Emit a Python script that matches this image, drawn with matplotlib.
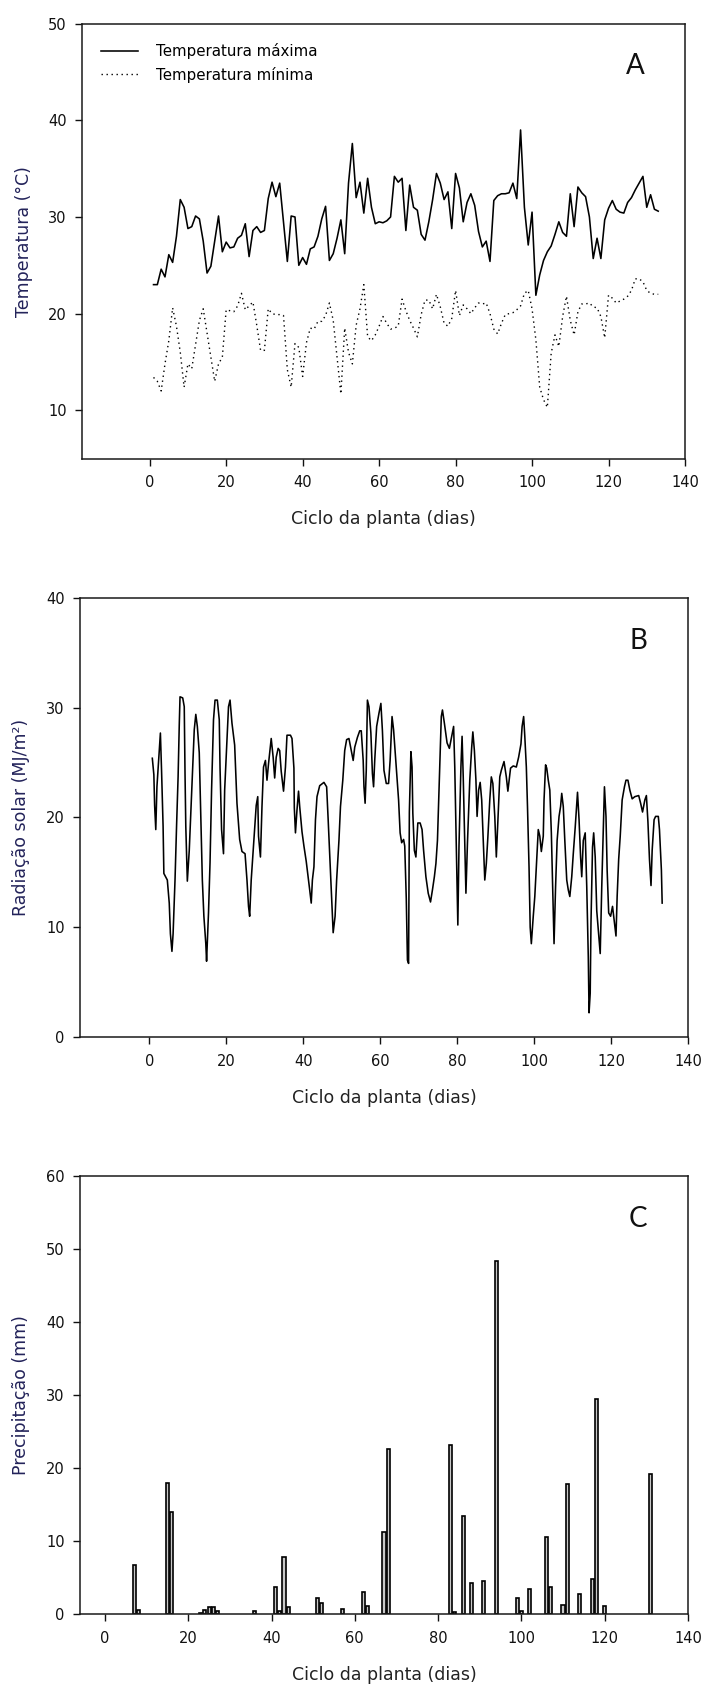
import matplotlib
matplotlib.use("Agg")
import matplotlib.pyplot as plt

# ---------------- dados ----------------
dias = list(range(1, 134))

t_max = [23.0, 23.0, 24.6, 23.8, 26.1, 25.3, 28.0, 31.8, 31.0, 28.8,
         29.0, 30.1, 29.8, 27.5, 24.2, 24.9, 27.5, 30.1, 26.4, 27.4,
         26.8, 26.9, 27.8, 28.1, 29.3, 25.9, 28.6, 29.0, 28.4, 28.6,
         31.9, 33.6, 32.1, 33.5, 29.5, 25.4, 30.1, 30.0, 25.0, 25.8,
         25.1, 26.7, 26.9, 28.0, 29.8, 31.1, 25.5, 26.2, 27.8, 29.7,
         26.2, 33.5, 37.6, 32.0, 33.6, 30.4, 34.0, 31.0, 29.3, 29.5,
         29.4, 29.6, 30.0, 34.2, 33.6, 34.0, 28.6, 33.3, 31.0, 30.7,
         28.2, 27.6, 29.5, 31.8, 34.5, 33.5, 31.8, 32.6, 28.8, 34.5,
         33.0, 29.5, 31.5, 32.4, 31.2, 28.5, 26.9, 27.5, 25.4, 31.7,
         32.2, 32.4, 32.4, 32.5, 33.5, 31.9, 39.0, 31.0, 27.1, 30.5,
         21.9, 24.0, 25.5, 26.4, 27.0, 28.2, 29.5, 28.4, 28.0, 32.4,
         29.0, 33.1, 32.5, 32.1, 30.0, 25.7, 27.8, 25.7, 29.7, 30.9,
         31.7, 30.8, 30.5, 30.4, 31.5, 32.0, 32.8, 33.5, 34.2, 31.0,
         32.3, 30.8, 30.6]

t_min = [13.4, 13.0, 12.0, 14.8, 17.2, 20.6, 18.7, 16.0, 12.4, 14.8,
         14.3, 16.8, 19.3, 20.5, 18.0, 15.5, 13.0, 14.8, 15.5, 20.4,
         20.3, 20.2, 20.8, 22.1, 20.4, 20.8, 21.2, 18.8, 16.2, 16.2,
         20.5, 20.0, 19.9, 19.9, 19.8, 14.2, 12.4, 16.9, 16.5, 13.5,
         17.0, 18.5, 18.4, 19.2, 19.2, 19.8, 21.1, 19.3, 15.5, 11.7,
         18.5, 16.0, 14.8, 18.8, 20.5, 23.0, 17.6, 17.2, 17.8, 18.7,
         19.7, 19.0, 18.4, 18.5, 18.7, 21.5, 20.3, 19.3, 18.5, 17.6,
         19.9, 21.4, 21.4, 20.5, 22.0, 20.7, 19.0, 18.7, 19.5, 22.4,
         19.8, 20.9, 20.5, 20.0, 20.6, 21.1, 21.0, 21.1, 20.0, 18.4,
         17.9, 19.0, 19.9, 20.0, 20.1, 20.4, 20.8, 22.1, 22.4, 20.5,
         17.3, 12.4, 11.1, 10.3, 15.9, 17.8, 16.6, 19.7, 21.8, 19.3,
         17.8, 20.2, 21.0, 21.0, 21.1, 20.7, 20.6, 19.7, 17.5, 21.9,
         21.6, 21.1, 21.3, 21.5, 21.8, 22.4, 23.6, 23.6, 23.3, 22.4,
         22.1, 22.0, 22.0]

rad_dia = [0.8, 1.2, 1.4, 1.7, 2.0, 2.6, 2.9, 3.2, 3.6, 3.8, 4.7, 5.2, 5.5, 5.9,
           6.2, 6.7, 7.1, 7.5, 7.8, 8.0, 8.7, 9.1, 9.3, 9.5, 9.9, 10.4, 10.7,
           11.2, 11.7, 12.1, 12.5, 13.0, 13.4, 13.8, 14.2, 14.7, 14.9, 15.4,
           15.8, 16.2, 16.7, 17.1, 17.7, 18.2, 18.4, 18.8, 19.3, 19.6, 20.0,
           20.6, 21.0, 21.5, 22.2, 22.8, 23.5, 24.1, 24.9, 25.4, 25.8, 26.1,
           26.5, 26.9, 27.4, 27.8, 28.2, 28.4, 28.9, 29.3, 29.7, 30.2, 30.6,
           31.0, 31.7, 32.2, 32.6, 33.0, 33.5, 33.9, 34.3, 34.9, 35.4, 35.8,
           36.7, 37.1, 37.6, 37.7, 38.0, 38.4, 38.8, 39.1, 39.7, 40.2, 40.8,
           41.3, 41.7, 42.1, 42.4, 42.8, 43.2, 43.6, 44.3, 45.4, 46.1, 46.5,
           47.0, 47.4, 47.8, 48.3, 48.7, 49.3, 49.7, 50.3, 50.8, 51.3, 51.9,
           52.5, 53.0, 53.4, 54.1, 54.7, 55.1, 55.6, 55.8, 56.1, 56.4, 56.7,
           57.1, 57.6, 58.0, 58.3, 58.6, 59.1, 59.7, 60.2, 60.6, 61.0, 61.6,
           62.2, 62.6, 63.1, 63.5, 64.2, 64.8, 65.2, 65.6, 66.1, 66.4, 66.8,
           67.1, 67.4, 67.6, 68.0, 68.3, 68.5, 68.9, 69.3, 69.8, 70.4, 70.9,
           71.3, 71.9, 72.5, 73.1, 73.6, 74.1, 74.5, 74.9, 75.4, 75.9, 76.2,
           76.7, 77.4, 78.0, 78.6, 79.1, 79.4, 79.8, 80.2, 80.5, 81.0, 81.3,
           81.6, 82.0, 82.3, 82.7, 83.3, 83.8, 84.1, 84.5, 84.9, 85.2, 85.6,
           86.0, 86.4, 86.8, 87.2, 87.6, 88.0, 88.5, 88.9, 89.3, 89.8, 90.2,
           90.7, 91.1, 91.5, 92.2, 92.8, 93.2, 93.9, 94.6, 95.4, 96.0, 96.6,
           96.9, 97.3, 97.6, 98.0, 98.3, 98.7, 99.0, 99.3, 99.8, 100.2, 100.7,
           101.1, 101.5, 101.9, 102.4, 102.6, 103.0, 103.3, 103.7, 104.1,
           104.5, 104.9, 105.2, 105.6, 106.0, 106.5, 106.9, 107.2, 107.6,
           108.0, 108.5, 108.9, 109.3, 109.8, 110.2, 110.7, 111.1, 111.3,
           111.7, 112.1, 112.4, 112.8, 113.3, 113.7, 114.1, 114.3, 114.6,
           114.8, 115.2, 115.5, 115.9, 116.3, 116.8, 117.2, 117.6, 118.1,
           118.3, 118.7, 119.0, 119.4, 119.9, 120.4, 120.9, 121.3, 121.6,
           122.0, 122.4, 122.9, 123.5, 123.9, 124.4, 124.9, 125.5, 126.2,
           127.2, 127.7, 128.2, 128.8, 129.2, 129.6, 130.0, 130.4, 130.7,
           131.2, 131.6, 132.3, 132.6, 133.1, 133.3]

rad_val = [25.4, 23.9, 21.1, 18.9, 22.8, 26.1, 27.7, 24.3, 19.2, 14.9, 14.3, 12.2,
           9.4, 7.8, 9.4, 14.3, 19.2, 23.7, 28.4, 31.0, 30.9, 30.1, 24.0, 19.2,
           14.2, 17.0, 19.5, 23.7, 28.0, 29.4, 28.3, 25.9, 20.1, 14.3, 11.0,
           8.5, 6.9, 11.3, 15.9, 22.5, 28.9, 30.7, 30.7, 28.9, 24.5, 18.9,
           16.7, 22.5, 25.5, 30.1, 30.7, 28.6, 26.6, 21.3, 18.0, 16.9, 16.7,
           14.3, 11.9, 11.0, 14.3, 16.4, 18.9, 21.1, 21.9, 18.3, 16.4, 21.0,
           24.6, 25.2, 23.4, 24.9, 27.2, 25.5, 23.6, 25.5, 26.3, 26.1, 24.2,
           22.4, 24.6, 27.5, 27.5, 27.2, 24.5, 20.9, 18.6, 20.7, 22.4, 21.0,
           18.7, 17.4, 16.0, 14.6, 13.4, 12.2, 14.3, 15.5, 19.8, 21.9, 22.9,
           23.2, 22.8, 19.8, 15.8, 12.8, 9.5, 11.0, 14.3, 17.9, 21.0, 23.4,
           26.1, 27.1, 27.2, 26.1, 25.2, 26.4, 27.3, 27.9, 27.9, 25.2, 22.8,
           21.3, 24.3, 30.7, 30.1, 27.7, 24.0, 22.8, 25.2, 28.3, 29.5, 30.4,
           27.9, 24.3, 23.1, 23.1, 25.2, 29.2, 28.0, 24.6, 21.6, 18.6, 17.7,
           18.0, 17.4, 12.6, 7.0, 6.7, 20.5, 26.0, 24.6, 20.4, 17.0, 16.4,
           19.5, 19.5, 18.9, 17.0, 14.6, 13.1, 12.3, 13.4, 14.6, 15.8, 17.9,
           23.7, 29.2, 29.8, 28.6, 26.8, 26.3, 27.4, 28.3, 24.6, 17.4, 10.2,
           17.4, 24.6, 27.4, 23.7, 17.7, 13.1, 17.7, 23.4, 26.4, 27.8, 26.1,
           23.4, 20.1, 22.5, 23.2, 21.6, 17.9, 14.3, 15.8, 18.2, 21.6, 23.7,
           23.1, 20.1, 16.4, 20.4, 23.7, 24.3, 25.1, 23.7, 22.4, 24.5, 24.7,
           24.6, 25.5, 26.7, 28.3, 29.2, 27.4, 24.6, 21.0, 15.5, 10.0, 8.5,
           11.0, 12.8, 16.2, 18.9, 18.3, 16.9, 18.3, 21.6, 24.8, 24.5, 23.4,
           22.5, 18.6, 12.8, 8.5, 13.7, 17.9, 20.1, 21.0, 22.2, 21.0, 17.9,
           14.3, 13.4, 12.8, 14.6, 16.7, 19.1, 21.2, 22.3, 19.8, 16.4, 14.6,
           17.9, 18.6, 13.7, 7.3, 2.2, 4.0, 10.4, 17.3, 18.6, 16.4, 11.5, 9.4,
           7.6, 13.7, 20.1, 22.8, 20.1, 15.2, 11.3, 11.0, 11.9, 10.4, 9.2,
           12.8, 16.2, 18.3, 21.6, 22.8, 23.4, 23.4, 22.5, 21.7, 21.9, 22.0,
           21.3, 20.5, 21.6, 22.0, 19.6, 16.2, 13.8, 17.0, 19.8, 20.1, 20.1,
           18.9, 15.2, 12.2]

chuva_dia = [7, 8, 15, 16, 23, 24, 25, 26, 27, 36, 41, 42, 43, 44, 51, 52, 57,
             62, 63, 67, 68, 83, 84, 86, 88, 91, 94, 99, 100, 102, 106, 107,
             110, 111, 114, 117, 118, 120, 131]
chuva_mm = [6.7, 0.6, 18.0, 14.0, 0.2, 0.5, 0.9, 0.9, 0.4, 0.45, 3.65, 0.45,
            7.8, 0.9, 2.15, 1.5, 0.65, 3.0, 1.1, 11.2, 22.6, 23.1, 0.25, 13.4,
            4.3, 4.5, 48.3, 2.15, 0.45, 3.4, 10.6, 3.7, 1.2, 17.8, 2.8, 4.75,
            29.4, 1.1, 19.2]

xticks = [0, 20, 40, 60, 80, 100, 120, 140]

# ---------------- figura ----------------
plt.rcParams['font.family'] = 'DejaVu Sans'
fig = plt.figure(figsize=(7.04, 16.88), dpi=100)

cor_ylabel = '#23235a'
cor_xlabel = '#222222'

axA = fig.add_axes([0.1165, 0.7283, 0.8565, 0.2577])
axB = fig.add_axes([0.1136, 0.3857, 0.8636, 0.26])
axC = fig.add_axes([0.1136, 0.0438, 0.8636, 0.2595])


def estilo(ax, ylabel, letra):
    for s in ax.spines.values():
        s.set_linewidth(1.1)
        s.set_color('#1a1a1a')
    ax.tick_params(direction='out', length=5, width=1, labelsize=10.5,
                   colors='#111111')
    ax.tick_params(axis='x', pad=7)
    ax.tick_params(axis='y', pad=6)
    ax.set_xticks(xticks)
    ax.set_xlabel('Ciclo da planta (dias)', fontsize=12.5, color=cor_xlabel)
    ax.set_ylabel(ylabel, fontsize=12.5, color=cor_ylabel)
    ax.xaxis.set_label_coords(0.5, -0.118)
    ax.yaxis.set_label_coords(-0.082, 0.5)
    ax.text(0.918, 0.903, letra, transform=ax.transAxes, fontsize=20,
            family='Lato', ha='center', va='center', color='#111111')


# A - temperatura
axA.plot(dias, t_max, color='black', lw=1.15, label='Temperatura máxima')
axA.plot(dias, t_min, color='black', lw=1.0, linestyle=(0, (1, 2.6)),
         label='Temperatura mínima')
axA.set_xlim(-17.7, 140)
axA.set_ylim(5, 50)
axA.set_yticks([10, 20, 30, 40, 50])
estilo(axA, 'Temperatura (°C)', 'A')
axA.legend(loc='upper left', bbox_to_anchor=(0.031, 0.955), frameon=False,
           fontsize=10.8, handlelength=2.5, handletextpad=1.2,
           labelspacing=0.5, borderpad=0, borderaxespad=0)

# B - radiacao
axB.plot(rad_dia, rad_val, color='black', lw=1.15)
axB.set_xlim(-18, 140)
axB.set_ylim(0, 40)
axB.set_yticks([0, 10, 20, 30, 40])
estilo(axB, 'Radiação solar (MJ/m²)', 'B')

# C - precipitacao
axC.bar(chuva_dia, chuva_mm, width=0.75, facecolor='#c8c8c8',
        edgecolor='black', linewidth=1.2)
axC.set_xlim(-6, 140)
axC.set_ylim(0, 60)
axC.set_yticks([0, 10, 20, 30, 40, 50, 60])
estilo(axC, 'Precipitação (mm)', 'C')

fig.savefig('out.png', dpi=100)
